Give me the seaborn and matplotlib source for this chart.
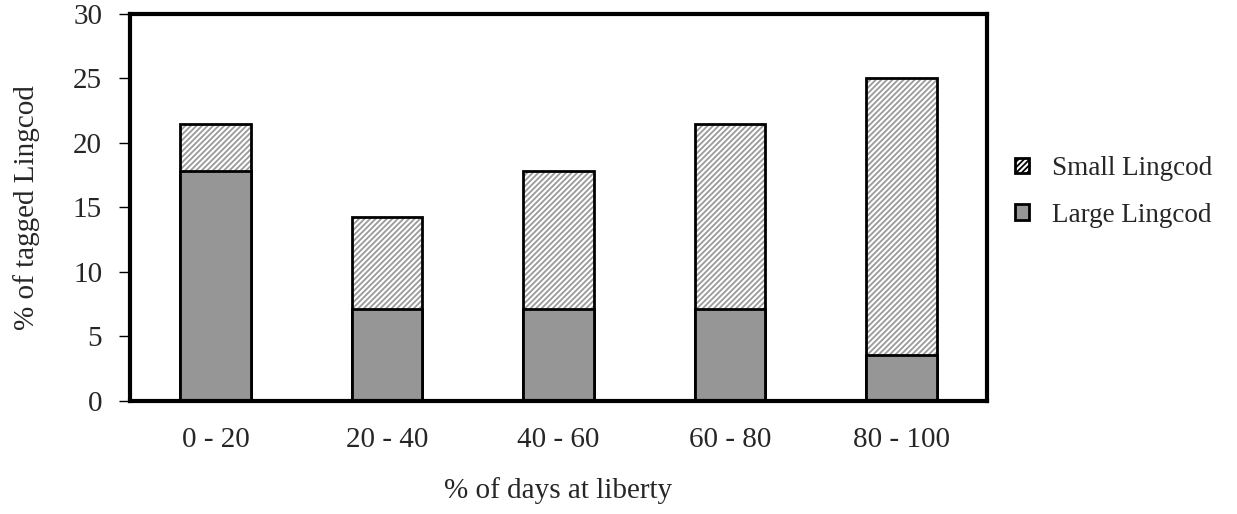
import pandas as pd
import matplotlib
matplotlib.use("Agg")
import matplotlib.pyplot as plt
from matplotlib.patches import Patch
import seaborn as sns

# values (% of 28 tagged fish)
bins = ["0 - 20", "20 - 40", "40 - 60", "60 - 80", "80 - 100"]
large = [17.86, 7.14, 7.14, 7.14, 3.57]
small = [3.57, 7.14, 10.71, 14.29, 21.43]

df = pd.DataFrame({"bin": bins, "large": large, "small": small})
df["total"] = df["large"] + df["small"]

sns.set_theme(style="white")
plt.rcParams["font.family"] = ["Liberation Serif", "DejaVu Serif"]
plt.rcParams["hatch.linewidth"] = 1.3

FS = 21
fig = plt.figure(figsize=(12.37, 5.14), dpi=100)
ax = fig.add_axes([0.105, 0.22, 0.693, 0.753])

W = 0.41
# hatched small part (drawn as full stack, then covered by large)
sns.barplot(data=df, x="bin", y="total", color="white", width=W, ax=ax,
            hatch="//////", edgecolor="#9a9a9a", linewidth=0, saturation=1)
sns.barplot(data=df, x="bin", y="total", color="white", width=W, ax=ax,
            fill=False, edgecolor="black", linewidth=2, saturation=1)
sns.barplot(data=df, x="bin", y="large", color="#969696", width=W, ax=ax,
            edgecolor="black", linewidth=2, saturation=1)

ax.set_ylim(0, 30)
ax.set_xlim(-0.5, 4.5)
ax.set_yticks(range(0, 31, 5))
ax.set_xticks([i - 0.5 for i in range(6)], minor=True)
ax.tick_params(axis="x", which="major", length=0, labelsize=FS, pad=19)
ax.tick_params(axis="x", which="minor", length=8, width=1, color="black", direction="out")
ax.tick_params(axis="y", length=8, width=1, color="black", direction="out", labelsize=FS,
               left=True, pad=12)
for s in ax.spines.values():
    s.set_linewidth(3)
    s.set_color("black")

ax.set_xlabel("% of days at liberty", fontsize=FS, labelpad=17)
ax.set_ylabel("% of tagged Lingcod", fontsize=FS, labelpad=24)

handles = [Patch(facecolor="white", edgecolor="black", hatch="//////", linewidth=2, label="Small Lingcod"),
           Patch(facecolor="#969696", edgecolor="black", linewidth=2, label="Large Lingcod")]
fig.legend(handles=handles, loc="center left", bbox_to_anchor=(0.801, 0.627),
           frameon=False, fontsize=19.5, handlelength=0.5, handleheight=0.5,
           labelspacing=0.8, handletextpad=0.85)

fig.savefig("out.png", dpi=100)
